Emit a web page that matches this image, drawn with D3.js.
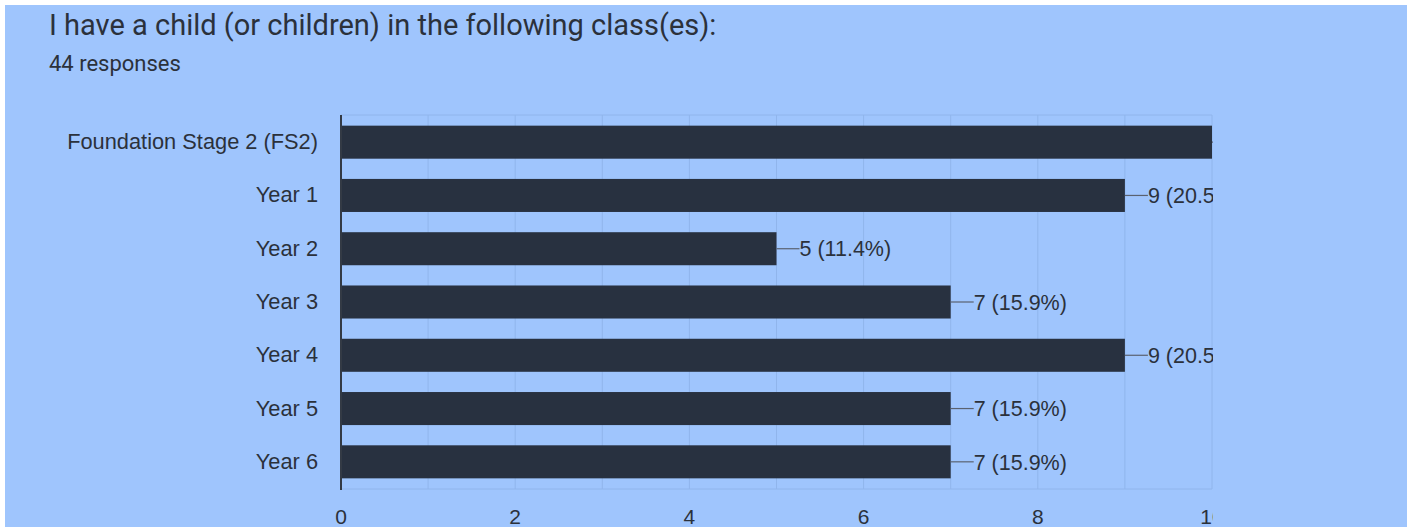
<!DOCTYPE html>
<html>
<head>
<meta charset="utf-8">
<script src="https://cdn.jsdelivr.net/npm/d3@7"></script>
<style>
  html, body { margin: 0; padding: 0; background: #ffffff; }
  svg { display: block; font-family: Roboto, "Noto Sans", sans-serif; }
</style>
</head>
<body>
<div id="vis"></div>
<script>
// Chart data
const CATEGORIES = ["Foundation Stage 2 (FS2)", "Year 1", "Year 2", "Year 3", "Year 4", "Year 5", "Year 6"];
const COUNTS = [10, 9, 5, 7, 9, 7, 7];
const PERCENTS = ["22.7%", "20.5%", "11.4%", "15.9%", "20.5%", "15.9%", "15.9%"];
const X_TICKS = [0, 2, 4, 6, 8, 10];
const TITLE = "I have a child (or children) in the following class(es):";
const SUBTITLE = "44 responses";

// Frame
const FRAME_WIDTH = 1407;
const FRAME_HEIGHT = 527;
const MARGINS = {left: 341, right: 195, top: 115, bottom: 38};
const VIS_WIDTH = FRAME_WIDTH - MARGINS.left - MARGINS.right;
const VIS_HEIGHT = FRAME_HEIGHT - MARGINS.top - MARGINS.bottom;

const BG = "#9fc5fd";
const BAR = "#283140";
const GRID = "#90b5ec";
const TEXT = "#2b313b";
const LABEL_FONT = "'Liberation Sans', Arial, sans-serif";

const FRAME = d3.select("#vis")
                .append("svg")
                  .attr("width", FRAME_WIDTH)
                  .attr("height", FRAME_HEIGHT);

// blue panel with thin white edges at top and left
FRAME.append("rect")
     .attr("x", 5).attr("y", 5)
     .attr("width", FRAME_WIDTH - 5).attr("height", FRAME_HEIGHT - 5)
     .attr("fill", BG);

FRAME.append("text")
     .attr("x", 49).attr("y", 35)
     .attr("font-size", "29px")
     .attr("fill", TEXT)
     .text(TITLE);

FRAME.append("text")
     .attr("x", 49).attr("y", 71)
     .attr("font-size", "22px")
     .attr("fill", TEXT)
     .text(SUBTITLE);

// scales
const X_SCALE = d3.scaleLinear()
                  .domain([0, 10])
                  .range([0, VIS_WIDTH]);

const Y_SCALE = d3.scaleBand()
                  .domain(CATEGORIES)
                  .range([0, VIS_HEIGHT])
                  .paddingInner(0.38)
                  .paddingOuter(0.2);

// anything beyond the right of the plot is cut off
FRAME.append("clipPath")
     .attr("id", "clip")
   .append("rect")
     .attr("x", -MARGINS.left).attr("y", -MARGINS.top)
     .attr("width", MARGINS.left + VIS_WIDTH + 1)
     .attr("height", FRAME_HEIGHT);

const PLOT = FRAME.append("g")
                  .attr("transform", "translate(" + MARGINS.left + "," + MARGINS.top + ")")
                  .attr("clip-path", "url(#clip)");

// vertical gridlines every unit
PLOT.selectAll(".vgrid")
    .data(d3.range(1, 11))
    .enter()
    .append("line")
      .attr("x1", d => X_SCALE(d)).attr("x2", d => X_SCALE(d))
      .attr("y1", 0).attr("y2", VIS_HEIGHT)
      .attr("stroke", GRID).attr("stroke-width", 1);

// horizontal top and bottom lines
PLOT.selectAll(".hgrid")
    .data([0, VIS_HEIGHT])
    .enter()
    .append("line")
      .attr("x1", 0).attr("x2", VIS_WIDTH)
      .attr("y1", d => d).attr("y2", d => d)
      .attr("stroke", GRID).attr("stroke-width", 1);

const rows = CATEGORIES.map((c, i) => ({cat: c, n: COUNTS[i], pct: PERCENTS[i]}));

PLOT.selectAll(".bar")
    .data(rows)
    .enter()
    .append("rect")
      .attr("x", 0)
      .attr("y", d => Y_SCALE(d.cat))
      .attr("width", d => X_SCALE(d.n))
      .attr("height", Y_SCALE.bandwidth())
      .attr("fill", BAR);

// leader lines and value labels
PLOT.selectAll(".lead")
    .data(rows)
    .enter()
    .append("line")
      .attr("x1", d => X_SCALE(d.n)).attr("x2", d => X_SCALE(d.n) + 23)
      .attr("y1", d => Y_SCALE(d.cat) + Y_SCALE.bandwidth() / 2)
      .attr("y2", d => Y_SCALE(d.cat) + Y_SCALE.bandwidth() / 2)
      .attr("stroke", "#5a6270").attr("stroke-width", 1.2);

PLOT.selectAll(".val")
    .data(rows)
    .enter()
    .append("text")
      .attr("x", d => X_SCALE(d.n) + 23)
      .attr("y", d => Y_SCALE(d.cat) + Y_SCALE.bandwidth() / 2)
      .attr("dy", "0.36em")
      .attr("font-family", LABEL_FONT)
      .attr("font-size", "21.5px")
      .attr("fill", TEXT)
      .text(d => d.n + " (" + d.pct + ")");

// x tick labels
PLOT.selectAll(".xt")
    .data(X_TICKS)
    .enter()
    .append("text")
      .attr("x", d => X_SCALE(d))
      .attr("y", VIS_HEIGHT + 35)
      .attr("text-anchor", "middle")
      .attr("font-family", LABEL_FONT)
      .attr("font-size", "21px")
      .attr("fill", TEXT)
      .text(d => d);

// y axis labels + baseline
const Y_AXIS = FRAME.append("g")
                    .attr("transform", "translate(" + MARGINS.left + "," + MARGINS.top + ")")
                    .call(d3.axisLeft(Y_SCALE).tickSize(0).tickPadding(23));
Y_AXIS.select(".domain").remove();
Y_AXIS.selectAll("text")
      .attr("font-size", "21.8px")
      .attr("font-family", LABEL_FONT)
      .attr("fill", TEXT);

FRAME.append("line")
     .attr("x1", MARGINS.left).attr("x2", MARGINS.left)
     .attr("y1", MARGINS.top).attr("y2", MARGINS.top + VIS_HEIGHT + 1)
     .attr("stroke", "#333a45").attr("stroke-width", 2);
</script>
</body>
</html>
